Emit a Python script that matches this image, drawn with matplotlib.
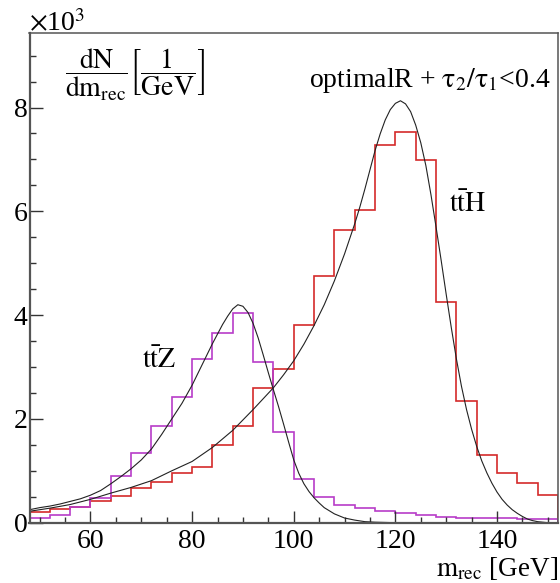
import numpy as np
import matplotlib; matplotlib.use("Agg")
import matplotlib.pyplot as plt
from matplotlib.ticker import MultipleLocator

plt.rcParams['font.family'] = ['Liberation Serif', 'DejaVu Serif']
plt.rcParams['mathtext.fontset'] = 'stix'

# histogram binning (GeV) and contents (x10^3)
edges = np.arange(48, 156, 4)
tth_hist = [0.20, 0.26, 0.30, 0.42, 0.51, 0.67, 0.79, 0.96, 1.08, 1.50, 1.86, 2.60, 2.97,
            3.80, 4.75, 5.64, 6.02, 7.27, 7.52, 6.99, 4.26, 2.35, 1.31, 0.96, 0.77, 0.54]
ttz_hist = [0.09, 0.15, 0.31, 0.48, 0.90, 1.35, 1.86, 2.43, 3.16, 3.66, 4.05, 3.09, 1.74,
            0.84, 0.49, 0.34, 0.28, 0.23, 0.19, 0.14, 0.11, 0.10, 0.09, 0.09, 0.08, 0.08]

# fit curves
ttz_fit_x = [48, 50, 52, 54, 56, 58, 60, 62, 64, 66, 68, 70, 72, 74, 76, 78, 80, 82, 84, 86, 87,
             88, 89, 90, 91, 92, 93, 94, 95, 96, 97, 98, 99, 100, 101, 102, 103, 104, 105, 106,
             108, 110, 112, 114, 116, 120, 130, 152]
ttz_fit_y = [0.25, 0.29, 0.32, 0.36, 0.41, 0.46, 0.53, 0.62, 0.75, 0.89, 1.04, 1.21, 1.42, 1.70,
             2.00, 2.30, 2.65, 3.05, 3.45, 3.82, 3.98, 4.12, 4.20, 4.17, 4.05, 3.84, 3.56, 3.23,
             2.89, 2.56, 2.24, 1.90, 1.55, 1.21, 0.95, 0.75, 0.60, 0.48, 0.38, 0.29, 0.17, 0.09,
             0.05, 0.02, 0.01, 0.0, 0.0, 0.0]
tth_fit_x = [48, 52, 56, 60, 64, 68, 72, 76, 80, 84, 88, 92, 96, 98, 100, 102, 104, 106, 108, 110,
             112, 113, 114, 115, 116, 117, 118, 119, 120, 121, 122, 123, 124, 125, 126, 127, 128,
             129, 130, 131, 132, 133, 134, 135, 136, 137, 138, 139, 140, 141, 142, 143, 144, 145,
             146, 147, 148, 149, 150, 152]
tth_fit_y = [0.22, 0.28, 0.35, 0.45, 0.57, 0.68, 0.81, 1.00, 1.18, 1.45, 1.78, 2.18, 2.60, 2.85,
             3.12, 3.44, 3.80, 4.20, 4.66, 5.18, 5.76, 6.08, 6.43, 6.80, 7.17, 7.49, 7.76, 7.96,
             8.08, 8.13, 8.07, 7.92, 7.66, 7.32, 6.88, 6.32, 5.70, 5.06, 4.40, 3.76, 3.16, 2.63,
             2.18, 1.80, 1.47, 1.19, 0.96, 0.76, 0.59, 0.45, 0.34, 0.25, 0.18, 0.12, 0.07, 0.04,
             0.02, 0.01, 0.0, 0.0]

W, H = 560, 583
fig = plt.figure(figsize=(W / 100, H / 100), dpi=100)
ax = fig.add_axes([29.5 / W, 1 - 522.7 / H, 528.5 / W, 489.4 / H])

ax.stairs(tth_hist, edges, color='#d42a2a', lw=1.2)
ax.stairs(ttz_hist, edges, color='#b83cc8', lw=1.2)
ax.plot(tth_fit_x, tth_fit_y, color='#222222', lw=0.8)
ax.plot(ttz_fit_x, ttz_fit_y, color='#222222', lw=0.8)

ax.set_xlim(48, 152)
ax.set_ylim(0, 9.43)
ax.xaxis.set_major_locator(MultipleLocator(20))
ax.xaxis.set_minor_locator(MultipleLocator(5))
ax.yaxis.set_major_locator(MultipleLocator(2))
ax.yaxis.set_minor_locator(MultipleLocator(0.5))
ax.tick_params(which='both', direction='in', top=False, right=False, color='#333333',
               labelsize=20, width=1.0)
ax.tick_params(axis='x', which='major', length=9, pad=4.5)
ax.tick_params(axis='x', which='minor', length=4.5)
ax.tick_params(axis='y', which='major', length=9.5, pad=1.5)
ax.tick_params(axis='y', which='minor', length=4.5)
for s in ax.spines.values():
    s.set_color('#555555'); s.set_linewidth(1.1)
ax.spines['left'].set_linewidth(1.6)
ax.spines['bottom'].set_linewidth(1.6)

def fpos(px, py):
    return px / W, 1 - py / H

fig.text(*fpos(29, 31.5), r'$\times$10$^{3}$', fontsize=20, ha='left', va='baseline')
fig.text(*fpos(65, 75), r'$\dfrac{\mathrm{dN}}{\mathrm{dm_{rec}}}\left[\dfrac{1}{\mathrm{GeV}}\right]$',
         fontsize=20, ha='left', va='center')
fig.text(*fpos(551, 86.7), r'optimalR + $\mathrm{\tau_{2}/\tau_{1}}$<0.4', fontsize=20,
         ha='right', va='baseline')
fig.text(*fpos(449, 211.7), r'$\mathrm{t\bar{t}H}$', fontsize=20, ha='left', va='baseline')
fig.text(*fpos(142, 368), r'$\mathrm{t\bar{t}Z}$', fontsize=20, ha='left', va='baseline')
fig.text(*fpos(558, 576), r'$\mathrm{m_{rec}}$ [GeV]', fontsize=19.5, ha='right', va='baseline')

fig.savefig("out.png", dpi=100)
